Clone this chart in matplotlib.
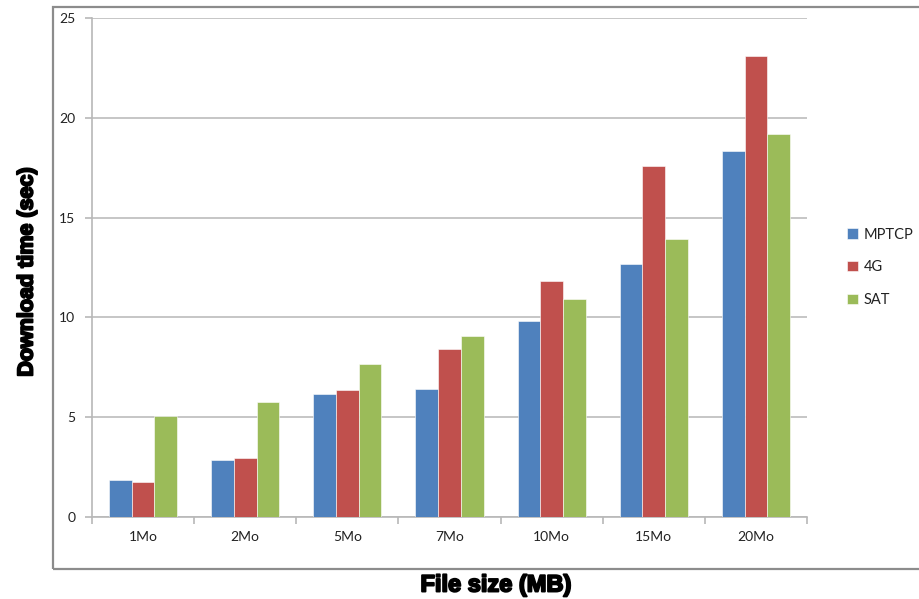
import matplotlib
matplotlib.use("Agg")
import matplotlib.pyplot as plt
import matplotlib.patheffects as pe
from matplotlib.patches import Rectangle
import numpy as np

# Download times (seconds) per file size and transport
categories = ["1Mo", "2Mo", "5Mo", "7Mo", "10Mo", "15Mo", "20Mo"]
mptcp = [1.83, 2.88, 6.18, 6.43, 9.80, 12.68, 18.33]
lte_4g = [1.77, 2.95, 6.38, 8.44, 11.83, 17.59, 23.08]
sat = [5.08, 5.77, 7.65, 9.05, 10.93, 13.94, 19.21]
series_names = ["MPTCP", "4G", "SAT"]
series_colors = ["#4F81BD", "#C0504D", "#9BBB59"]

W, H = 919, 599
fig = plt.figure(figsize=(W / 100, H / 100), dpi=100)
ax = fig.add_axes([92 / W, (H - 517) / H, 715 / W, 499 / H])

n = len(categories)
x = np.arange(n)
bar_w = 1 / 4.5
for i, (vals, name, col) in enumerate(zip([mptcp, lte_4g, sat], series_names, series_colors)):
    ax.bar(x + (i - 1) * bar_w, vals, width=bar_w, color=col, label=name,
           edgecolor="#ffffff", linewidth=0.4, zorder=3)

ax.set_xlim(-0.5, n - 0.5)
ax.set_ylim(0, 25)
ax.set_yticks([0, 5, 10, 15, 20, 25])
ax.yaxis.grid(True, color="#c6c6c6", linewidth=1.4, zorder=0)
ax.set_axisbelow(True)

grid_col = "#b8b8b8"
for s in ["top", "right"]:
    ax.spines[s].set_visible(False)
for s in ["left", "bottom"]:
    ax.spines[s].set_color(grid_col)
    ax.spines[s].set_linewidth(1.2)

# category boundary ticks, labels centered in each group
ax.set_xticks(np.arange(-0.5, n, 1.0))
ax.set_xticklabels([])
ax.set_xticks(x, minor=True)
ax.set_xticklabels(categories, minor=True)
ax.tick_params(axis="x", which="major", length=5, color=grid_col, width=1.2)
ax.tick_params(axis="x", which="minor", length=0, pad=10, labelsize=10, labelcolor="#222222")
ax.tick_params(axis="y", length=5, color=grid_col, width=1.2, pad=7, labelsize=10,
               labelcolor="#222222")
for lbl in ax.get_xticklabels(minor=True) + ax.get_yticklabels():
    lbl.set_family("Lato")

leg = ax.legend(loc="center left", bbox_to_anchor=(1.038, 0.5), frameon=False,
                handlelength=0.7, handleheight=0.7, handletextpad=0.4,
                labelspacing=1.3, prop={"family": "Lato", "size": 10.5})
for t in leg.get_texts():
    t.set_color("#222222")

# chart border
fig.patches.append(Rectangle((53 / W, (H - 569) / H), 2.0, (569 - 7) / H,
                             transform=fig.transFigure, fill=False,
                             edgecolor="#8c8c8c", linewidth=1.6))

stroke = [pe.withStroke(linewidth=1.4, foreground="black")]
fig.text(27 / W, (H - 272) / H, "Download time (sec)", rotation=90, ha="center",
         va="center", fontsize=15.5, fontweight="bold", family="Liberation Sans",
         path_effects=stroke)
fig.text(496 / W, (H - 585) / H, "File size (MB)", ha="center", va="center",
         fontsize=17, fontweight="bold", family="Liberation Sans",
         path_effects=stroke)

fig.savefig("out.png", dpi=100)
